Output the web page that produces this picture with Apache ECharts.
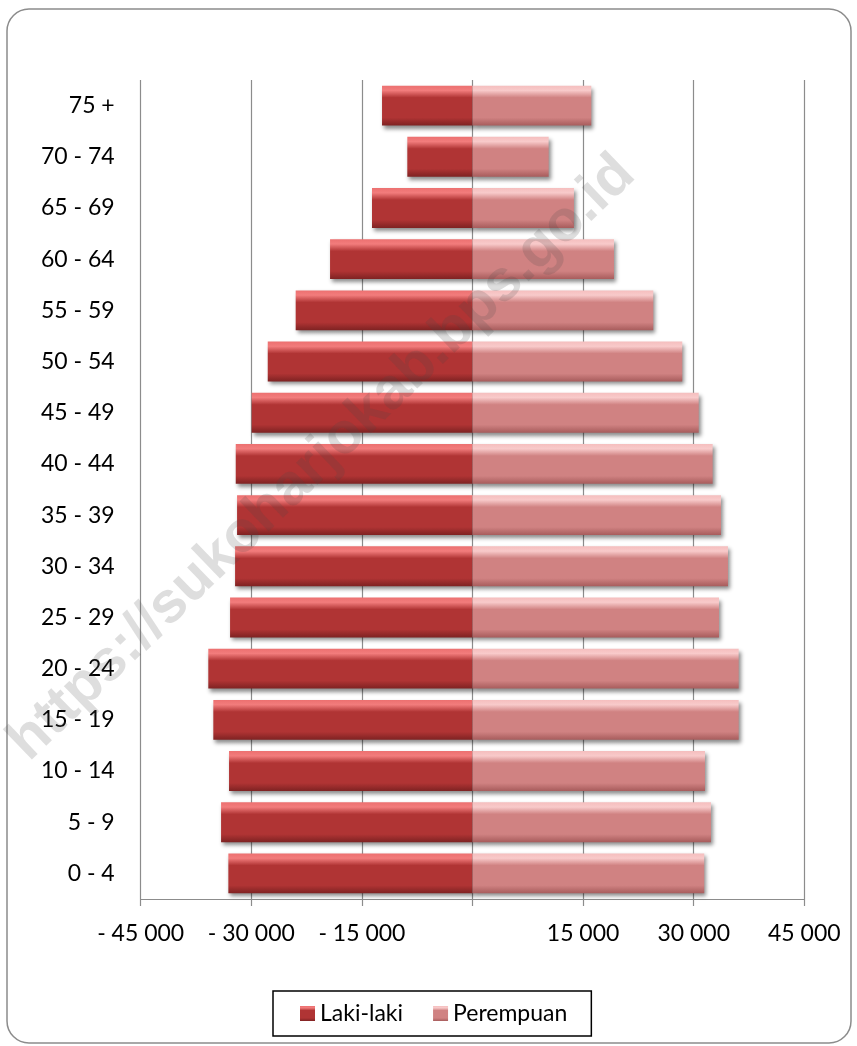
<!DOCTYPE html>
<html>
<head>
<meta charset="utf-8">
<script src="https://cdn.jsdelivr.net/npm/echarts@6/dist/echarts.min.js"></script>
<style>
html,body{margin:0;padding:0;background:#fff;}
#c{width:857px;height:1046px;}
</style>
</head>
<body>
<div id="c"></div>
<script>
const categories = ['0 - 4','5 - 9','10 - 14','15 - 19','20 - 24','25 - 29','30 - 34','35 - 39','40 - 44','45 - 49','50 - 54','55 - 59','60 - 64','65 - 69','70 - 74','75 +'];
const lakiLaki = [-33110,-34100,-33020,-35150,-35830,-32880,-32200,-31930,-32110,-29950,-27770,-23980,-19320,-13630,-8840,-12270];
const perempuan = [31430,32340,31530,36100,36100,33430,34650,33700,32570,30680,28450,24520,19190,13760,10330,16110];
const xTicks = {min:-45000, max:45000, interval:15000};
const seriesNames = ['Laki-laki','Perempuan'];

const FONT = 'Lato';
function fmt(v){
  if (v === 0) return '';
  const a = Math.abs(v).toString().replace(/\B(?=(\d{3})+(?!\d))/g, ' ');
  return v < 0 ? '- ' + a : a;
}
function grad(top, hi, mid, low){
  return new echarts.graphic.LinearGradient(0,0,0,1,[
    {offset:0, color:top},
    {offset:0.12, color:hi},
    {offset:0.3, color:mid},
    {offset:0.8, color:mid},
    {offset:1, color:low}
  ]);
}
const chart = echarts.init(document.getElementById('c'), null, {renderer:'canvas'});
chart.setOption({
  backgroundColor:'#fff',
  animation:false,
  textStyle:{fontFamily:FONT},
  graphic:[
    {type:'rect', shape:{x:7, y:9, width:844, height:1034, r:22}, style:{fill:'none', stroke:'#8c8c8c', lineWidth:1.5}, z:-10},
    {type:'text', x:322, y:458, rotation:Math.PI/4.1, z:100, silent:true,
     style:{text:'https://sukoharjokab.bps.go.id', font:'bold 58px "Liberation Sans", Arial', fill:'rgba(70,70,70,0.18)', textAlign:'center', textVerticalAlign:'middle'}}
  ],
  grid:{left:140.7, right:52.7, top:80, bottom:147, containLabel:false},
  legend:{
    data:seriesNames, bottom:10, left:273,
    icon:'rect', itemWidth:15, itemHeight:15, itemGap:30,
    borderColor:'#000', borderWidth:1.5, padding:[11,24,11,27],
    textStyle:{fontFamily:FONT, fontSize:23, color:'#000'}
  },
  xAxis:{
    type:'value', min:xTicks.min, max:xTicks.max, interval:xTicks.interval,
    axisLine:{show:true, onZero:false, lineStyle:{color:'#8c8c8c', width:1.2}},
    axisTick:{show:true, length:7, lineStyle:{color:'#8c8c8c', width:1.2}},
    axisLabel:{formatter:fmt, fontFamily:FONT, fontSize:23, color:'#000', margin:23},
    splitLine:{show:true, lineStyle:{color:'#8c8c8c', width:1.2}}
  },
  yAxis:{
    type:'category', data:categories,
    axisLine:{show:false}, axisTick:{show:false},
    axisLabel:{fontFamily:FONT, fontSize:23, color:'#000', margin:26}
  },
  series:[
    {name:seriesNames[0], type:'bar', stack:'pop', data:lakiLaki, barCategoryGap:'22%',
     itemStyle:{color:grad('#ec7070','#f27c7c','#b03434','#7e2222'),
       shadowColor:'rgba(0,0,0,0.45)', shadowBlur:4, shadowOffsetX:2, shadowOffsetY:3}},
    {name:seriesNames[1], type:'bar', stack:'pop', data:perempuan, barCategoryGap:'22%',
     itemStyle:{color:grad('#f5bebe','#f8caca','#d08282','#a75c5c'),
       shadowColor:'rgba(0,0,0,0.45)', shadowBlur:4, shadowOffsetX:2, shadowOffsetY:3}}
  ]
});
</script>
</body>
</html>
